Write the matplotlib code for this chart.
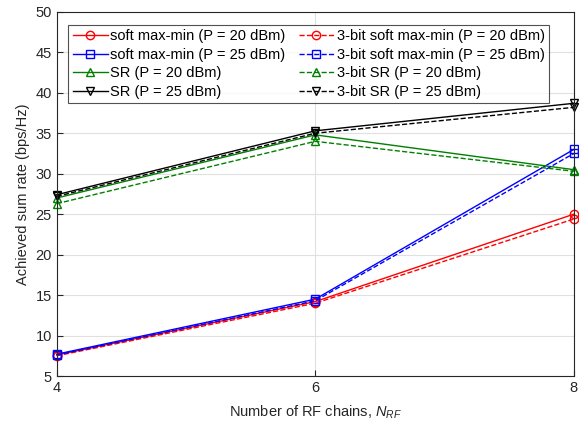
import matplotlib
matplotlib.use('Agg')
import matplotlib.pyplot as plt

plt.rcParams['font.family'] = ['Liberation Sans', 'DejaVu Sans']
plt.rcParams['mathtext.fontset'] = 'custom'
plt.rcParams['mathtext.it'] = 'Liberation Sans:italic'
plt.rcParams['mathtext.rm'] = 'Liberation Sans'

n_rf = [4, 6, 8]

soft_20 = [7.6, 14.2, 25.0]
soft_25 = [7.7, 14.5, 33.0]
sr_20 = [27.0, 34.8, 30.5]
sr_25 = [27.4, 35.3, 38.7]
q_soft_20 = [7.5, 14.0, 24.4]
q_soft_25 = [7.6, 14.3, 32.5]
q_sr_20 = [26.3, 34.0, 30.3]
q_sr_25 = [27.2, 35.0, 38.2]

labels = ['soft max-min (P = 20 dBm)', 'soft max-min (P = 25 dBm)',
          'SR (P = 20 dBm)', 'SR (P = 25 dBm)',
          '3-bit soft max-min (P = 20 dBm)', '3-bit soft max-min (P = 25 dBm)',
          '3-bit SR (P = 20 dBm)', '3-bit SR (P = 25 dBm)']

fig = plt.figure(figsize=(5.79, 4.23), dpi=100)
ax = fig.add_axes([0.098, 0.111, 0.893, 0.861])

green = '#008000'
styles = [('r', 'o'), ('b', 's'), (green, '^'), ('k', 'v')]
series = [soft_20, soft_25, sr_20, sr_25]
qseries = [q_soft_20, q_soft_25, q_sr_20, q_sr_25]

for (c, m), ys, lab in zip(styles, series, labels[:4]):
    ax.plot(n_rf, ys, color=c, marker=m, mfc='none', ms=6, lw=1, label=lab,
            clip_on=False)
for (c, m), ys, lab in zip(styles, qseries, labels[4:]):
    ax.plot(n_rf, ys, color=c, marker=m, mfc='none', ms=6, lw=1, ls='--',
            label=lab, clip_on=False)

ax.set_xlim(4, 8)
ax.set_ylim(5, 50)
ax.set_xticks([4, 6, 8])
ax.set_yticks(range(5, 51, 5))
ax.grid(True, color='#e0e0e0', lw=0.8)
ax.set_axisbelow(True)
ax.tick_params(direction='in', length=4, labelsize=10.5, colors='#262626')
for s in ax.spines.values():
    s.set_color('#262626')
ax.set_xlabel('Number of RF chains, $N_{RF}$', fontsize=10.5, color='#262626',
              labelpad=6)
ax.set_ylabel('Achieved sum rate (bps/Hz)', fontsize=10.5, color='#262626')

leg = ax.legend(loc='upper left', ncol=2, fontsize=10.5, frameon=True, fancybox=False,
                edgecolor='#262626', handlelength=2.4, columnspacing=0.9,
                handletextpad=0.2, labelspacing=0.32, borderpad=0.3,
                bbox_to_anchor=(0.008, 0.985))
leg.get_frame().set_linewidth(0.8)

fig.savefig('out.png', dpi=100)
